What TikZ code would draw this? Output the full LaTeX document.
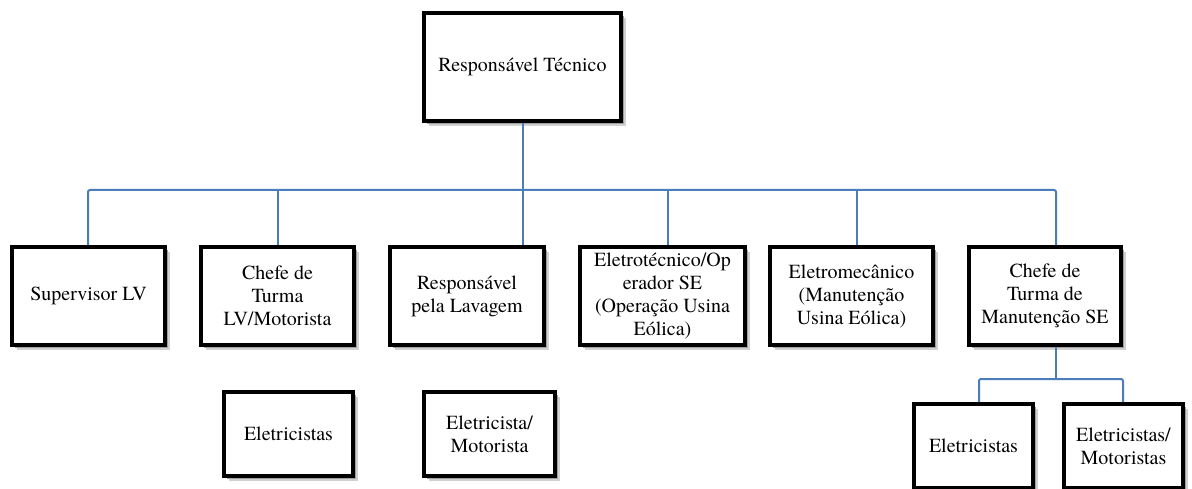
\documentclass[tikz,border=0pt]{standalone}
\usepackage{fontspec}
\setmainfont{TeX Gyre Termes}
\usetikzlibrary{shadows,calc}
\definecolor{connblue}{HTML}{4A7EBB}
\tikzset{
  orgbox/.style={draw=black, line width=4pt, fill=white, align=center, inner sep=2pt,
    font=\rmfamily\fontsize{20pt}{23pt}\selectfont,
    general shadow={shadow xshift=5pt, shadow yshift=-5pt, fill=black!18},
    general shadow={shadow xshift=3pt, shadow yshift=-3pt, fill=black!38}},
  conn/.style={draw=connblue, line width=2pt}
}
\begin{document}
\begin{tikzpicture}[x=1pt,y=-1pt]
\useasboundingbox (0,0) rectangle (1192,489);
\clip (0,0) rectangle (1192,489);
\fill[white] (0,0) rectangle (1192,489);
% top
\node[orgbox, minimum width=197pt, minimum height=108pt] (top) at (522.5,67) {Responsável Técnico};
% row 2
\node[orgbox, minimum width=153pt, minimum height=98pt] (b1) at (88.5,296) {Supervisor LV};
\node[orgbox, minimum width=153pt, minimum height=98pt] (b2) at (277.5,296) {Chefe de\\Turma\\LV/Motorista};
\node[orgbox, minimum width=154pt, minimum height=98pt] (b3) at (467,296) {Responsável\\pela Lavagem};
\node[orgbox, minimum width=165pt, minimum height=98pt] (b4) at (662.5,296) {Eletrotécnico/Op\\erador SE\\(Operação Usina\\Eólica)};
\node[orgbox, minimum width=163pt, minimum height=98pt] (b5) at (851.5,296) {Eletromecânico\\(Manutenção\\Usina Eólica)};
\node[orgbox, minimum width=152pt, minimum height=98pt] (b6) at (1045,296) {Chefe de\\Turma de\\Manutenção SE};
% row 3
\node[orgbox, minimum width=129pt, minimum height=84pt] (b7) at (288.5,434) {Eletricistas};
\node[orgbox, minimum width=131pt, minimum height=84pt] (b8) at (489.5,434) {Eletricista/\\Motorista};
\node[orgbox, minimum width=119pt, minimum height=84pt] (b9) at (973.5,446) {Eletricistas};
\node[orgbox, minimum width=119pt, minimum height=84pt] (b10) at (1123.5,446) {Eletricistas/\\Motoristas};
% connectors
\coordinate (bus) at (523,190);
\coordinate (bus2) at (1056,379);
\draw[conn] (top.south) -- (b3.north -| top.south);
\draw[conn, rounded corners=2pt] ([xshift=-0.5pt]b1.north) |- (bus) -| ([xshift=11pt]b6.north);
\draw[conn] (b2.north) -- (b2.north |- bus);
\draw[conn] ([xshift=5.5pt]b4.north) -- ([xshift=5.5pt]b4.north |- bus);
\draw[conn] ([xshift=5.5pt]b5.north) -- ([xshift=5.5pt]b5.north |- bus);
\draw[conn] ([xshift=11pt]b6.south) -- (bus2);
\draw[conn, rounded corners=2pt] ([xshift=5.5pt]b9.north) |- (bus2) -| ([xshift=-0.5pt]b10.north);
\end{tikzpicture}
\end{document}
